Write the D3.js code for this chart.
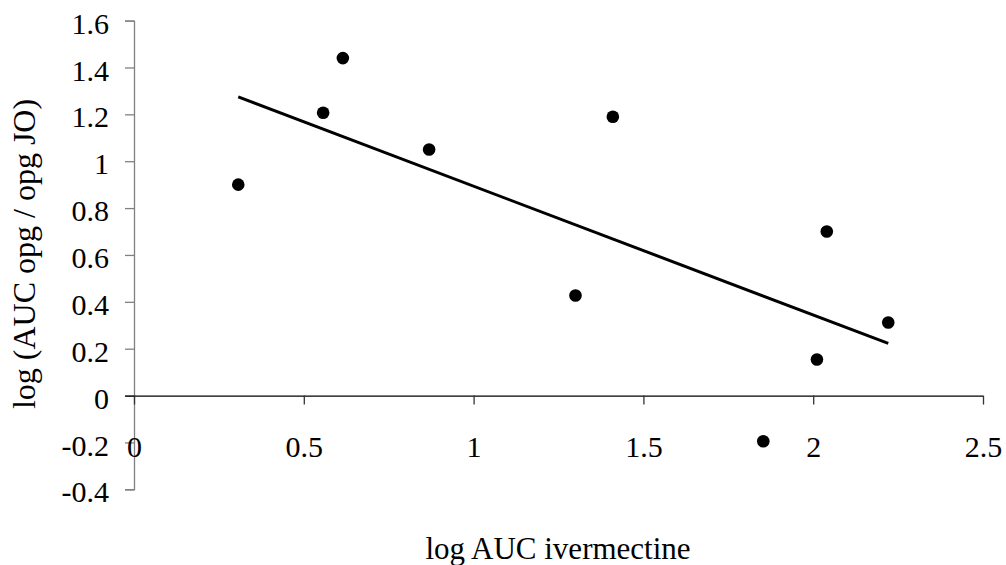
<!DOCTYPE html>
<html>
<head>
<meta charset="utf-8">
<script src="https://cdn.jsdelivr.net/npm/d3@7"></script>
<style>
  html, body { margin: 0; padding: 0; background: #fff; }
</style>
</head>
<body>
<div id="chart"></div>
<script>
// data
const logAucIvermectine = [0.307, 0.557, 0.615, 0.869, 1.30, 1.41, 1.853, 2.011, 2.04, 2.221];
const logAucOpgRatio   = [0.90, 1.207, 1.44, 1.05, 0.427, 1.19, -0.195, 0.154, 0.70, 0.312];
const xTicks = [0, 0.5, 1, 1.5, 2, 2.5];
const yTicks = [-0.4, -0.2, 0, 0.2, 0.4, 0.6, 0.8, 1, 1.2, 1.4, 1.6];

const FONT = '"Liberation Serif", "Times New Roman", Times, serif';
const W = 1006, H = 565;
const svg = d3.select('#chart').append('svg')
    .attr('width', W)
    .attr('height', H);

// scales
const x = d3.scaleLinear().domain([0, 2.5]).range([134, 983]);
const y = d3.scaleLinear().domain([-0.4, 1.6]).range([489.3, 20.6]);

const points = logAucIvermectine.map((v, i) => ({ x: v, y: logAucOpgRatio[i] }));

// Y axis (grey, sits at x = 0)
const yAxis = svg.append('g')
    .attr('transform', `translate(${x(0)},0)`)
    .call(d3.axisLeft(y).tickValues(yTicks).tickSize(9).tickPadding(16)
        .tickFormat(d => String(+d.toFixed(1))));
yAxis.attr('font-family', FONT).attr('font-size', 30);
yAxis.select('.domain').attr('stroke', '#808080').attr('stroke-width', 1.3);
yAxis.selectAll('.tick line').attr('stroke', '#808080').attr('stroke-width', 1.3);
yAxis.selectAll('.tick text')
    .attr('fill', '#000')
    .attr('dy', '0.42em');

// X axis (black, sits at y = 0)
const xAxis = svg.append('g')
    .attr('transform', `translate(0,${y(0)})`)
    .call(d3.axisBottom(x).tickValues(xTicks).tickSize(9).tickPadding(0)
        .tickFormat(d => String(d)));
xAxis.attr('font-family', FONT).attr('font-size', 30);
xAxis.select('.domain')
    .attr('d', `M${x(0) - 9},0.5H${x(2.5)}`)
    .attr('stroke', '#000').attr('stroke-width', 1.3);
xAxis.selectAll('.tick line').attr('stroke', '#333').attr('stroke-width', 1.3);
xAxis.selectAll('.tick text')
    .attr('fill', '#000')
    .attr('y', 61)
    .attr('dy', 0);

// regression line over the data range
const mx = d3.mean(points, d => d.x), my = d3.mean(points, d => d.y);
const slope = d3.sum(points, d => (d.x - mx) * (d.y - my)) / d3.sum(points, d => (d.x - mx) ** 2);
const intercept = my - slope * mx;
const [x0, x1] = d3.extent(points, d => d.x);

svg.append('line')
    .attr('x1', x(x0)).attr('y1', y(intercept + slope * x0))
    .attr('x2', x(x1)).attr('y2', y(intercept + slope * x1))
    .attr('stroke', '#000')
    .attr('stroke-width', 3);

// points
svg.append('g').selectAll('circle')
    .data(points)
    .join('circle')
    .attr('cx', d => x(d.x))
    .attr('cy', d => y(d.y))
    .attr('r', 6.3)
    .attr('fill', '#000');

// axis titles
svg.append('text')
    .attr('x', 558)
    .attr('y', 559)
    .attr('text-anchor', 'middle')
    .attr('font-family', FONT)
    .attr('font-size', 31)
    .text('log AUC ivermectine');

svg.append('text')
    .attr('transform', 'translate(35,254) rotate(-90)')
    .attr('text-anchor', 'middle')
    .attr('font-family', FONT)
    .attr('font-size', 32)
    .text('log (AUC opg / opg JO)');
</script>
</body>
</html>
